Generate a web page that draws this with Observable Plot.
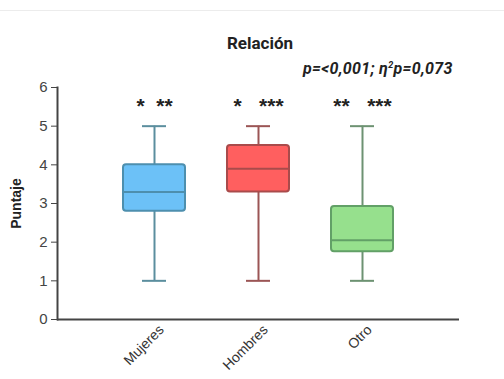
<!DOCTYPE html>
<html>
<head>
<meta charset="utf-8">
<script src="https://cdn.jsdelivr.net/npm/d3@7"></script>
<script src="https://cdn.jsdelivr.net/npm/@observablehq/plot@0.6"></script>
<style>
  html, body { margin: 0; padding: 0; background: #fff; }
  #wrap { position: relative; width: 504px; height: 379px; overflow: hidden; font-family: "Liberation Sans", Arial, sans-serif; }
  #topline { position: absolute; left: 0; top: 10px; width: 504px; height: 1px; background: #ececec; }
  #title { position: absolute; left: 0; width: 520px; top: 33px; text-align: center; font: bold 17px Roboto, "Liberation Sans", sans-serif; color: #222; }
  #subtitle { position: absolute; left: 303px; top: 59px; font: italic bold 16px Roboto, "Liberation Sans", sans-serif; letter-spacing: 0.3px; color: #222; white-space: nowrap; }
  #chart { position: absolute; left: 0; top: 0; }
</style>
</head>
<body>
<div id="wrap">
  <div id="topline"></div>
  <div id="chart"></div>
  <div id="title">Relación</div>
  <div id="subtitle">p=&lt;0,001; η<sup style="font-size:9px">2</sup>p=0,073</div>
</div>
<script>
// Data
const categories = ["Mujeres", "Hombres", "Otro"];
const whiskerLow = [1, 1, 1];
const q1 = [2.8, 3.3, 1.75];
const median = [3.3, 3.9, 2.05];
const q3 = [4.0, 4.5, 2.92];
const whiskerHigh = [5, 5, 5];
const stars = ["*  **", "*   ***", "**   ***"];
const starLevel = [5.5, 5.5, 5.5];
const yTicks = [0, 1, 2, 3, 4, 5, 6];

// Styles
const fills = ["#6cc1f7", "#ff5f5f", "#96e08d"];
const strokes = ["#4d8fae", "#a94b4b", "#62a067"];
const whiskerColors = ["#5b8e9e", "#9b5555", "#6d9272"];

const rows = categories.map((c, i) => ({
  cat: c, lo: whiskerLow[i], q1: q1[i], med: median[i], q3: q3[i], hi: whiskerHigh[i],
  stars: stars[i], sy: starLevel[i],
  fill: fills[i], stroke: strokes[i], wcol: whiskerColors[i]
}));

const chart = Plot.plot({
  width: 504,
  height: 379,
  marginTop: 87,
  marginBottom: 60,
  marginLeft: 57,
  marginRight: 45,
  style: { fontFamily: "'Liberation Sans', Arial, sans-serif", background: "transparent", overflow: "visible" },
  x: { domain: categories, paddingInner: 0.4, paddingOuter: 0.62 },
  y: { domain: [0, 6] },
  color: { type: "identity" },
  marks: [
    Plot.axisY({ ticks: yTicks, tickFormat: d3.format("d"), tickSize: 6, tickPadding: 4, fontSize: 15, stroke: "#444", color: "#444",
      label: "Puntaje", labelAnchor: "center", labelArrow: false, labelOffset: 46 }),
    Plot.axisX({ tickSize: 0, tickRotate: -45, fontSize: 14, color: "#333", tickPadding: 8, label: null, dx: 7 }),
    Plot.ruleX(rows, { x: "cat", y1: "lo", y2: "q1", stroke: "wcol", strokeWidth: 2 }),
    Plot.ruleX(rows, { x: "cat", y1: "q3", y2: "hi", stroke: "wcol", strokeWidth: 2 }),
    Plot.tickY(rows, { x: "cat", y: "lo", stroke: "wcol", strokeWidth: 2, insetLeft: 19, insetRight: 19 }),
    Plot.tickY(rows, { x: "cat", y: "hi", stroke: "wcol", strokeWidth: 2, insetLeft: 19, insetRight: 19 }),
    Plot.barY(rows, { x: "cat", y1: "q1", y2: "q3", fill: "fill", stroke: "stroke", strokeWidth: 2, rx: 3 }),
    Plot.tickY(rows, { x: "cat", y: "med", stroke: "stroke", strokeWidth: 2 }),
    Plot.text(rows, { x: "cat", y: "sy", text: "stars", fontSize: 21, fontWeight: "bold", fill: "#222", dy: -1 }),
    Plot.ruleY([0], { stroke: "#444", strokeWidth: 2 }),
    Plot.frame({ anchor: "left", stroke: "#444", strokeWidth: 2 })
  ]
});
chart.querySelectorAll("text").forEach(t => t.style.whiteSpace = "pre");
document.getElementById("chart").appendChild(chart);
</script>
<style>
  #chart svg [aria-label="y-axis label"] text { font-weight: bold; font-size: 14px; fill: #222; }
</style>
</body>
</html>
